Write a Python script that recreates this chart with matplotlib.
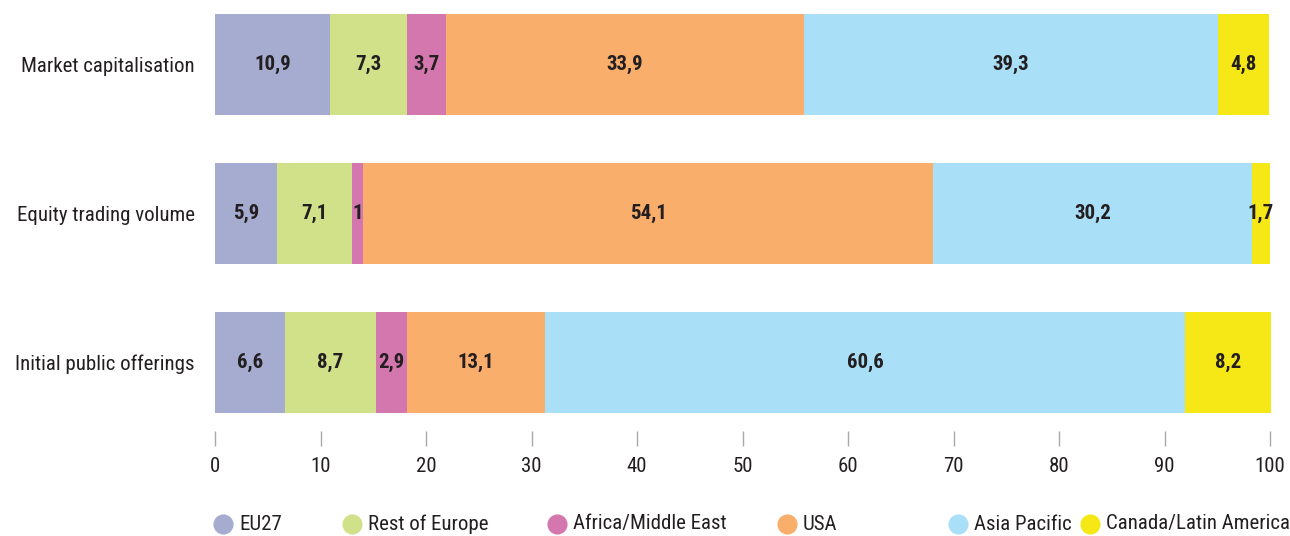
import matplotlib
matplotlib.use("Agg")
import matplotlib.pyplot as plt
from matplotlib import font_manager
from matplotlib.lines import Line2D

names = {f.name for f in font_manager.fontManager.ttflist}
family = None
for cand in ["Liberation Sans Narrow", "Roboto Condensed", "Open Sans Condensed", "DejaVu Sans"]:
    if cand in names:
        family = cand
        break
plt.rcParams["font.family"] = [family, "DejaVu Sans"]

categories = ["Market capitalisation", "Equity trading volume", "Initial public offerings"]
series = ["EU27", "Rest of Europe", "Africa/Middle East", "USA", "Asia Pacific", "Canada/Latin America"]
eu27 = [10.9, 5.9, 6.6]
rest_europe = [7.3, 7.1, 8.7]
africa_me = [3.7, 1.0, 2.9]
usa = [33.9, 54.1, 13.1]
asia_pacific = [39.3, 30.2, 60.6]
canada_latam = [4.8, 1.7, 8.2]
values = [eu27, rest_europe, africa_me, usa, asia_pacific, canada_latam]
colors = ["#a5acd0", "#d0e18a", "#d577af", "#f9ae6b", "#aadff8", "#f5e816"]
xticks = [0, 10, 20, 30, 40, 50, 60, 70, 80, 90, 100]

text_color = "#231f20"
fs = 15

fig = plt.figure(figsize=(12.9, 5.36), dpi=100)
W, H = 1290, 536
ax_left, ax_right = 215, 1270
ax_top, ax_bottom = 14, 431
ax = fig.add_axes([ax_left / W, 1 - ax_bottom / H, (ax_right - ax_left) / W, (ax_bottom - ax_top) / H])

bar_h = 0.68
ypos = list(range(len(categories)))
left = [0.0] * len(categories)
for vals, col in zip(values, colors):
    ax.barh(ypos, vals, left=left, height=bar_h, color=col, edgecolor="none", clip_on=False)
    for y, v, l in zip(ypos, vals, left):
        lab = f"{v:g}".replace(".", ",")
        ax.text(l + v / 2, y, lab, ha="center", va="center", fontsize=fs,
                fontweight="bold", color=text_color)
    left = [a + b for a, b in zip(left, vals)]

px_per_unit = (413 - 14) / (2 + bar_h)
top_lim = -bar_h / 2
bottom_lim = 2 + bar_h / 2 + (ax_bottom - 413) / px_per_unit
ax.set_ylim(bottom_lim, top_lim)
ax.set_xlim(0, 100)
ax.set_yticks(ypos)
ax.set_yticklabels(categories, fontsize=fs, color=text_color)
ax.set_xticks(xticks)
ax.set_xticklabels([str(t) for t in xticks], fontsize=fs, color=text_color)
ax.tick_params(axis="y", length=0, pad=14.5)
ax.tick_params(axis="x", length=10.5, width=1, color="#a7a9ac", pad=8, direction="out")
for s in ax.spines.values():
    s.set_visible(False)

# legend, manually placed
leg_x = [223, 352, 557, 787, 958, 1090]
leg_y = 524
for x, name, col in zip(leg_x, series, colors):
    fig.add_artist(Line2D([x / W], [1 - leg_y / H], marker="o", markersize=13.5,
                          color=col, linestyle="none", transform=fig.transFigure))
    fig.text((x + 16) / W, 1 - leg_y / H, name, fontsize=fs, color=text_color,
             ha="left", va="center")

fig.savefig("out.png", dpi=100)
